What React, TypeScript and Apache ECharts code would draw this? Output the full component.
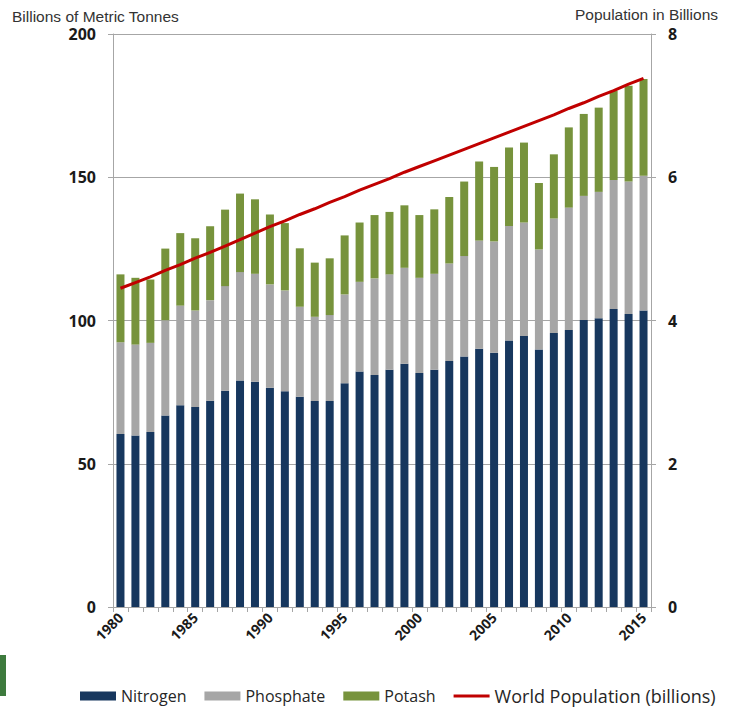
import React, { useEffect, useRef } from "react";
import * as echarts from "echarts";

const years = [
  "1980","1981","1982","1983","1984","1985","1986","1987","1988","1989",
  "1990","1991","1992","1993","1994","1995","1996","1997","1998","1999",
  "2000","2001","2002","2003","2004","2005","2006","2007","2008","2009",
  "2010","2011","2012","2013","2014","2015",
];

const nitrogen = [
  60.4, 59.9, 61.1, 66.8, 70.4, 69.8, 72.0, 75.5, 79.1, 78.6,
  76.5, 75.3, 73.4, 71.9, 71.9, 78.1, 82.2, 81.0, 82.8, 84.9,
  81.7, 82.8, 85.9, 87.4, 90.1, 88.7, 93.0, 94.6, 89.9, 95.6,
  96.7, 100.2, 100.8, 104.0, 102.3, 103.5,
];

const phosphate = [
  32.0, 31.7, 31.1, 33.3, 34.8, 33.7, 35.1, 36.5, 37.8, 37.7,
  36.1, 35.2, 31.4, 29.4, 30.0, 31.0, 31.3, 33.7, 33.3, 33.5,
  33.2, 33.5, 34.0, 35.1, 37.8, 38.9, 40.0, 39.6, 34.9, 40.0,
  42.7, 43.3, 44.1, 45.0, 46.2, 47.0,
];

const potash = [
  23.7, 23.3, 22.1, 25.0, 25.3, 25.2, 25.8, 26.7, 27.4, 26.0,
  24.4, 23.5, 20.4, 18.9, 19.8, 20.6, 20.7, 22.1, 21.8, 21.8,
  21.9, 22.5, 23.2, 26.0, 27.6, 26.0, 27.4, 27.9, 23.2, 22.4,
  28.0, 28.6, 29.4, 31.2, 33.4, 33.8,
];

const population = [
  4.45, 4.53, 4.61, 4.70, 4.78, 4.87, 4.95, 5.04, 5.13, 5.22,
  5.31, 5.39, 5.48, 5.56, 5.65, 5.73, 5.82, 5.90, 5.98, 6.07,
  6.15, 6.23, 6.31, 6.39, 6.47, 6.55, 6.63, 6.71, 6.79, 6.87,
  6.96, 7.04, 7.13, 7.21, 7.30, 7.38,
];

const leftTicks = { min: 0, max: 200, interval: 50 };
const rightTicks = { min: 0, max: 8, interval: 2 };

const axisGray = "#a6a6a6";
const POP = "World Population (billions)";

export default function App() {
  const ref = useRef<HTMLDivElement>(null);

  useEffect(() => {
    if (!ref.current) return;
    const chart = echarts.init(ref.current, undefined, { renderer: "svg" });
    chart.setOption({
      animation: false,
      backgroundColor: "#ffffff",
      grid: { left: 113, right: 82, top: 34, bottom: 106, containLabel: false },
      legend: {
        left: 75,
        top: 682,
        itemWidth: 36,
        itemHeight: 9,
        itemGap: 18,
        symbolKeepAspect: true,
        textStyle: {
          fontFamily: "Open Sans",
          fontSize: 16,
          color: "#262626",
          rich: {
            w: { fontFamily: "Open Sans", fontSize: 18, color: "#262626" },
          },
        },
        formatter: (name: string) => (name === POP ? "{w|" + name + "}" : name),
        data: [
          { name: "Nitrogen", icon: "rect" },
          { name: "Phosphate", icon: "rect" },
          { name: "Potash", icon: "rect" },
          { name: POP, icon: "path://M0 0H36V3H0Z" },
        ],
      },
      graphic: [
        {
          type: "text",
          left: 12,
          top: 8,
          style: {
            text: "Billions of Metric Tonnes",
            font: "15.5px 'Liberation Sans'",
            fill: "#333333",
          },
        },
        {
          type: "text",
          right: 15,
          top: 6,
          style: {
            text: "Population in Billions",
            font: "15.5px 'Liberation Sans'",
            fill: "#333333",
          },
        },
        {
          type: "rect",
          shape: { x: 0, y: 655, width: 6, height: 41 },
          style: { fill: "#3d7a3d" },
        },
      ],
      xAxis: {
        type: "category",
        data: years,
        boundaryGap: true,
        axisLine: { lineStyle: { color: axisGray } },
        axisTick: { show: true, interval: 0, length: 5, lineStyle: { color: axisGray } },
        axisLabel: {
          interval: 4,
          rotate: 45,
          fontFamily: "Open Sans",
          fontWeight: "bold",
          fontSize: 14,
          color: "#1a1a1a",
          margin: 8,
        },
      },
      yAxis: [
        {
          type: "value",
          ...leftTicks,
          axisLine: { show: true, lineStyle: { color: axisGray } },
          axisTick: { show: true, length: 5, lineStyle: { color: axisGray } },
          splitLine: { show: true, lineStyle: { color: axisGray, width: 1 } },
          axisLabel: {
            fontFamily: "Open Sans",
            fontWeight: "bold",
            fontSize: 16,
            color: "#1a1a1a",
            margin: 17,
          },
        },
        {
          type: "value",
          ...rightTicks,
          position: "right",
          axisLine: { show: true, lineStyle: { color: axisGray } },
          axisTick: { show: true, length: 5, lineStyle: { color: axisGray } },
          splitLine: { show: false },
          axisLabel: {
            fontFamily: "Open Sans",
            fontWeight: "bold",
            fontSize: 16,
            color: "#1a1a1a",
            margin: 17,
          },
        },
      ],
      series: [
        {
          name: "Nitrogen",
          type: "bar",
          stack: "total",
          data: nitrogen,
          barWidth: 8,
          itemStyle: { color: "#17375e" },
        },
        {
          name: "Phosphate",
          type: "bar",
          stack: "total",
          data: phosphate,
          barWidth: 8,
          itemStyle: { color: "#a6a6a6" },
        },
        {
          name: "Potash",
          type: "bar",
          stack: "total",
          data: potash,
          barWidth: 8,
          itemStyle: { color: "#77933c" },
        },
        {
          name: POP,
          type: "line",
          yAxisIndex: 1,
          data: population,
          symbol: "none",
          showSymbol: false,
          z: 5,
          lineStyle: { color: "#c00000", width: 3 },
          itemStyle: { color: "#c00000" },
        },
      ],
    });
    return () => chart.dispose();
  }, []);

  return (
    <div
      ref={ref}
      style={{ position: "fixed", left: 0, top: 0, width: 733, height: 713 }}
    />
  );
}
